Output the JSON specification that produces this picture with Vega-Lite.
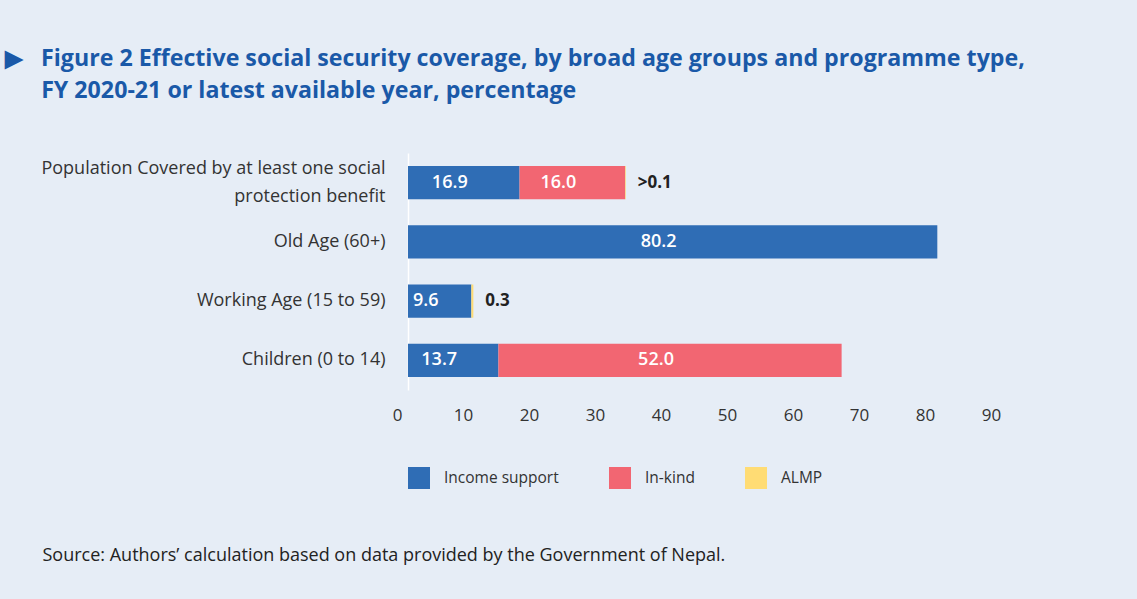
{
  "$schema": "https://vega.github.io/schema/vega-lite/v6.json",
  "width": 594,
  "height": 237,
  "autosize": {"type": "none"},
  "padding": {"left": 408, "top": 153, "right": 135, "bottom": 209},
  "background": "#e6edf6",
  "title": {
    "text": ["▶\u00a0\u00a0\u00a0Figure 2 Effective social security coverage, by broad age groups and programme type,", "\u200b\u00a0\u00a0\u00a0\u00a0\u00a0\u00a0FY 2020-21 or latest available year, percentage"],
    "anchor": "start",
    "frame": "group",
    "dx": -403,
    "offset": 50,
    "font": "Open Sans",
    "fontSize": 23.2,
    "fontWeight": "bold",
    "color": "#1a59a8",
    "lineHeight": 32
  },
  "data": {
    "values": [
      {"group": "Population Covered by at least one social protection benefit", "type": "Income support", "value": 16.9, "label": "16.9"},
      {"group": "Population Covered by at least one social protection benefit", "type": "In-kind", "value": 16.0, "label": "16.0"},
      {"group": "Population Covered by at least one social protection benefit", "type": "ALMP", "value": 0.1, "label": ">0.1"},
      {"group": "Old Age (60+)", "type": "Income support", "value": 80.2, "label": "80.2"},
      {"group": "Working Age (15 to 59)", "type": "Income support", "value": 9.6, "label": "9.6"},
      {"group": "Working Age (15 to 59)", "type": "ALMP", "value": 0.3, "label": "0.3"},
      {"group": "Children (0 to 14)", "type": "Income support", "value": 13.7, "label": "13.7"},
      {"group": "Children (0 to 14)", "type": "In-kind", "value": 52.0, "label": "52.0"}
    ]
  },
  "transform": [
    {"calculate": "indexof(['Income support','In-kind','ALMP'], datum.type)", "as": "ord"},
    {"stack": "value", "groupby": ["group"], "sort": [{"field": "ord", "order": "ascending"}], "as": ["x0", "x1"]},
    {"calculate": "(datum.x0 + datum.x1) / 2", "as": "mid"}
  ],
  "encoding": {
    "y": {
      "field": "group",
      "type": "nominal",
      "sort": ["Population Covered by at least one social protection benefit", "Old Age (60+)", "Working Age (15 to 59)", "Children (0 to 14)"],
      "scale": {"paddingInner": 0.44, "paddingOuter": 0.22},
      "axis": {
        "title": null,
        "ticks": false,
        "domain": true,
        "domainColor": "#ffffff",
        "domainWidth": 1.5,
        "labelPadding": 23,
        "labelFontSize": 18,
        "labelColor": "#333333",
        "labelLineHeight": 28,
        "labelLimit": 500,
        "labelOffset": {"condition": {"test": "datum.value == 'Population Covered by at least one social protection benefit'", "value": -14}, "value": 0},
        "labelExpr": "datum.label == 'Population Covered by at least one social protection benefit' ? ['Population Covered by at least one social', 'protection benefit'] : datum.label"
      }
    }
  },
  "layer": [
    {
      "mark": {"type": "bar"},
      "encoding": {
        "x": {
          "field": "x0",
          "type": "quantitative",
          "scale": {"domain": [0, 90], "nice": false},
          "axis": {
            "values": [0, 10, 20, 30, 40, 50, 60, 70, 80, 90],
            "domain": false,
            "ticks": false,
            "grid": false,
            "labelFlush": false,
            "labelOffset": -11,
            "labelPadding": 17,
            "labelFontSize": 17,
            "labelColor": "#333333",
            "title": "Source: Authors’ calculation based on data provided by the Government of Nepal.",
            "titleAnchor": "start",
            "titleAlign": "left",
            "titleBaseline": "middle",
            "titleX": -366,
            "titleY": 165,
            "titleFontSize": 18,
            "titleFontWeight": "normal",
            "titleColor": "#222222"
          }
        },
        "x2": {"field": "x1"},
        "color": {
          "field": "type",
          "type": "nominal",
          "scale": {"domain": ["Income support", "In-kind", "ALMP"], "range": ["#2f6db5", "#f26672", "#ffdc74"]},
          "legend": {
            "title": null,
            "orient": "none",
            "legendX": 0,
            "legendY": 314,
            "direction": "horizontal",
            "symbolType": "square",
            "symbolSize": 484,
            "symbolStrokeWidth": 0,
            "symbolOpacity": 1,
            "labelFontSize": 15.5,
            "labelColor": "#333333",
            "labelOffset": 14,
            "columnPadding": 50
          }
        }
      }
    },
    {
      "transform": [{"filter": "datum.type != 'ALMP'"}],
      "mark": {"type": "text", "color": "#ffffff", "fontWeight": 600, "fontSize": 18, "dx": -14},
      "encoding": {
        "x": {"field": "mid", "type": "quantitative"},
        "text": {"field": "label"}
      }
    },
    {
      "transform": [{"filter": "datum.type == 'ALMP'"}],
      "mark": {"type": "text", "color": "#222222", "fontWeight": "bold", "fontSize": 17, "align": "left", "dx": 12},
      "encoding": {
        "x": {"field": "x1", "type": "quantitative"},
        "text": {"field": "label"}
      }
    }
  ],
  "config": {
    "font": "Open Sans",
    "view": {"stroke": null},
    "axis": {"grid": false}
  }
}
